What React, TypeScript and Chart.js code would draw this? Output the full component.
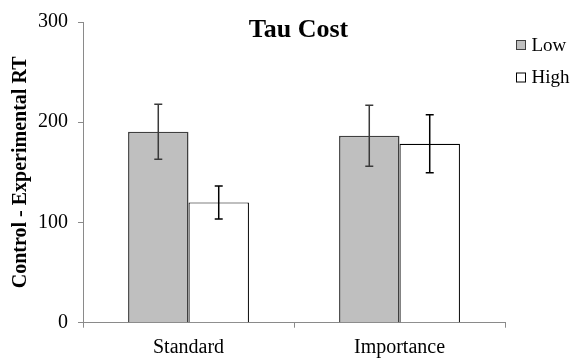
import React, { useEffect, useRef } from "react";
import { Chart, registerables } from "chart.js";

Chart.register(...registerables);

// Group means and standard errors of the tau cost
const categories = ["Standard", "Importance"];
const seriesNames = ["Low", "High"];
const lowValues = [190.5, 186.5];
const highValues = [120, 178.5];
const lowErrors = [27.5, 30.5];
const highErrors = [16.5, 29];
const yTicks = [0, 100, 200, 300];
const chartTitle = "Tau Cost";
const yAxisTitle = "Control - Experimental RT";

const FONT = "'Liberation Serif', 'Times New Roman', serif";
const AXIS_GRAY = "#8a8a8a";

const errorBarsPlugin = {
  id: "errorBars",
  afterDatasetsDraw(chart: any) {
    const { ctx } = chart;
    const yScale = chart.scales.y;
    chart.data.datasets.forEach((ds: any, di: number) => {
      const meta = chart.getDatasetMeta(di);
      ctx.save();
      ctx.strokeStyle = ds.errorColor;
      ctx.lineWidth = 1.5;
      meta.data.forEach((bar: any, i: number) => {
        const v = ds.data[i];
        const e = ds.errors[i];
        const x = bar.x;
        const yTop = yScale.getPixelForValue(v + e);
        const yBot = yScale.getPixelForValue(v - e);
        const cap = 4;
        ctx.beginPath();
        ctx.moveTo(x, yTop);
        ctx.lineTo(x, yBot);
        ctx.moveTo(x - cap, yTop);
        ctx.lineTo(x + cap, yTop);
        ctx.moveTo(x - cap, yBot);
        ctx.lineTo(x + cap, yBot);
        ctx.stroke();
      });
      ctx.restore();
    });
  },
};

const titleLegendPlugin = {
  id: "titleLegend",
  afterDraw(chart: any) {
    const { ctx, chartArea } = chart;
    ctx.save();
    // title over the plot
    ctx.fillStyle = "#000";
    ctx.font = `bold 26px ${FONT}`;
    ctx.textAlign = "center";
    ctx.textBaseline = "alphabetic";
    ctx.fillText(chartTitle, (chartArea.left + chartArea.right) / 2 + 4.5, 37);

    // legend at the right
    ctx.font = `19px ${FONT}`;
    ctx.textAlign = "left";
    ctx.textBaseline = "middle";
    chart.data.datasets.forEach((ds: any, i: number) => {
      const bx = 516.5;
      const by = 40.5 + i * 32.5;
      ctx.fillStyle = ds.backgroundColor;
      ctx.fillRect(bx, by, 9, 9);
      ctx.strokeStyle = ds.borderColor;
      ctx.lineWidth = 1;
      ctx.strokeRect(bx, by, 9, 9);
      ctx.fillStyle = "#000";
      ctx.fillText(ds.label, 531.5, by + 5.5);
    });
    ctx.restore();
  },
};

export default function App() {
  const canvasRef = useRef<HTMLCanvasElement | null>(null);

  useEffect(() => {
    if (!canvasRef.current) return;
    const chart = new Chart(canvasRef.current, {
      type: "bar",
      data: {
        labels: categories,
        datasets: [
          {
            label: seriesNames[0],
            data: lowValues,
            errors: lowErrors,
            backgroundColor: "#bfbfbf",
            borderColor: "#3f3f3f",
            errorColor: "#3a3a3a",
            borderWidth: 1.5,
            categoryPercentage: 0.573,
            barPercentage: 1,
          } as any,
          {
            label: seriesNames[1],
            data: highValues,
            errors: highErrors,
            backgroundColor: "#ffffff",
            borderColor: "#000000",
            errorColor: "#000000",
            borderWidth: 1.2,
            categoryPercentage: 0.573,
            barPercentage: 1,
          } as any,
        ],
      },
      options: {
        responsive: false,
        animation: false,
        devicePixelRatio: 1,
        layout: { padding: { top: 16.7, right: 70, bottom: 0, left: 0 } },
        plugins: {
          legend: { display: false },
          title: { display: false },
          tooltip: { enabled: false },
        },
        scales: {
          x: {
            grid: {
              display: true,
              offset: true,
              drawOnChartArea: false,
              drawTicks: true,
              tickLength: 5,
              color: AXIS_GRAY,
            },
            border: { display: true, color: AXIS_GRAY, width: 1 },
            ticks: { color: "#000", font: { family: FONT, size: 20 }, padding: 8 },
            afterFit(scale: any) {
              scale.height = 35.3;
            },
          },
          y: {
            min: 0,
            max: 300,
            afterBuildTicks(scale: any) {
              scale.ticks = yTicks.map((v) => ({ value: v }));
            },
            grid: {
              display: true,
              drawOnChartArea: false,
              drawTicks: true,
              tickLength: 5,
              color: AXIS_GRAY,
            },
            border: { display: true, color: AXIS_GRAY, width: 1 },
            ticks: { color: "#000", font: { family: FONT, size: 20 }, padding: 10 },
            title: {
              display: true,
              text: yAxisTitle,
              color: "#000",
              font: { family: FONT, size: 20, weight: "bold" },
              padding: { top: 9, bottom: 0 },
            },
            afterFit(scale: any) {
              scale.width = 83;
            },
          },
        },
      },
      plugins: [errorBarsPlugin, titleLegendPlugin],
    });
    return () => chart.destroy();
  }, []);

  return (
    <div style={{ position: "absolute", left: 0, top: 0, width: 575, height: 358, background: "#fff" }}>
      <canvas ref={canvasRef} width={575} height={358} />
    </div>
  );
}
